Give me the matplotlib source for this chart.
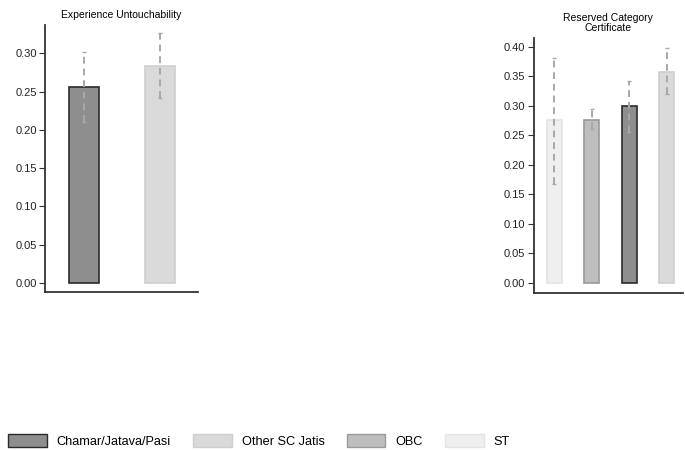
import matplotlib.pyplot as plt
from matplotlib.patches import Patch

plt.rcParams["font.family"] = ["Liberation Sans", "DejaVu Sans"]

groups = ["Chamar/Jatava/Pasi", "Other SC Jatis", "OBC", "ST"]
colors = {"Chamar/Jatava/Pasi": "#8e8e8e", "Other SC Jatis": "#dadada",
          "OBC": "#bebebe", "ST": "#efefef"}
edges = {"Chamar/Jatava/Pasi": "#2b2b2b", "Other SC Jatis": "#cfcfcf",
         "OBC": "#9a9a9a", "ST": "#e4e4e4"}

# Experience Untouchability
untouch_groups = ["Chamar/Jatava/Pasi", "Other SC Jatis"]
untouch_mean = [0.256, 0.283]
untouch_lo = [0.210, 0.242]
untouch_hi = [0.302, 0.327]

# Reserved Category Certificate
cert_groups = ["ST", "OBC", "Chamar/Jatava/Pasi", "Other SC Jatis"]
cert_mean = [0.275, 0.276, 0.299, 0.357]
cert_lo = [0.168, 0.260, 0.255, 0.320]
cert_hi = [0.380, 0.295, 0.342, 0.397]


def draw_panel(ax, grp, mean, lo, hi, title, yticks, ylim, xlim):
    xs = list(range(len(grp)))
    ax.bar(xs, mean, width=0.4, color=[colors[g] for g in grp],
           edgecolor=[edges[g] for g in grp], linewidth=1.2, zorder=2)
    yerr = [[m - l for m, l in zip(mean, lo)], [h - m for m, h in zip(mean, hi)]]
    eb = ax.errorbar(xs, mean, yerr=yerr, fmt="none", ecolor="#a8a8a8",
                     elinewidth=1.4, capsize=1.5, capthick=1.0, zorder=3)
    eb[2][0].set_linestyle((0, (3.5, 2.5)))
    ax.set_title(title, fontsize=7.5, pad=5, linespacing=1.0)
    ax.set_yticks(yticks)
    ax.set_yticklabels(["%.2f" % t for t in yticks])
    ax.set_ylim(*ylim)
    ax.set_xlim(*xlim)
    ax.set_xticks([])
    for s in ["top", "right"]:
        ax.spines[s].set_visible(False)
    for s in ["left", "bottom"]:
        ax.spines[s].set_color("#333333")
        ax.spines[s].set_linewidth(1.3)
    ax.tick_params(axis="y", labelsize=8, length=4, width=0.8,
                   color="#333333", pad=2, labelcolor="#222222")


fig = plt.figure(figsize=(6.85, 4.5), dpi=100)

ax1 = fig.add_axes([0.066, 0.351, 0.223, 0.593])
draw_panel(ax1, untouch_groups, untouch_mean, untouch_lo, untouch_hi,
           "Experience Untouchability",
           [0.0, 0.05, 0.10, 0.15, 0.20, 0.25, 0.30],
           (-0.012, 0.337), (-0.52, 1.51))

ax2 = fig.add_axes([0.779, 0.349, 0.218, 0.567])
draw_panel(ax2, cert_groups, cert_mean, cert_lo, cert_hi,
           "Reserved Category\nCertificate",
           [0.0, 0.05, 0.10, 0.15, 0.20, 0.25, 0.30, 0.35, 0.40],
           (-0.017, 0.415), (-0.55, 3.43))

handles = [Patch(facecolor=colors[g], edgecolor=edges[g], linewidth=1.0, label=g)
           for g in groups]
fig.legend(handles=handles, loc="center left", bbox_to_anchor=(0.012, 0.02),
           ncol=4, frameon=False, fontsize=9.2, handlelength=3.0, handleheight=1.2,
           handletextpad=0.8, columnspacing=1.75, borderpad=0, borderaxespad=0)

fig.savefig("out.png", dpi=100)
